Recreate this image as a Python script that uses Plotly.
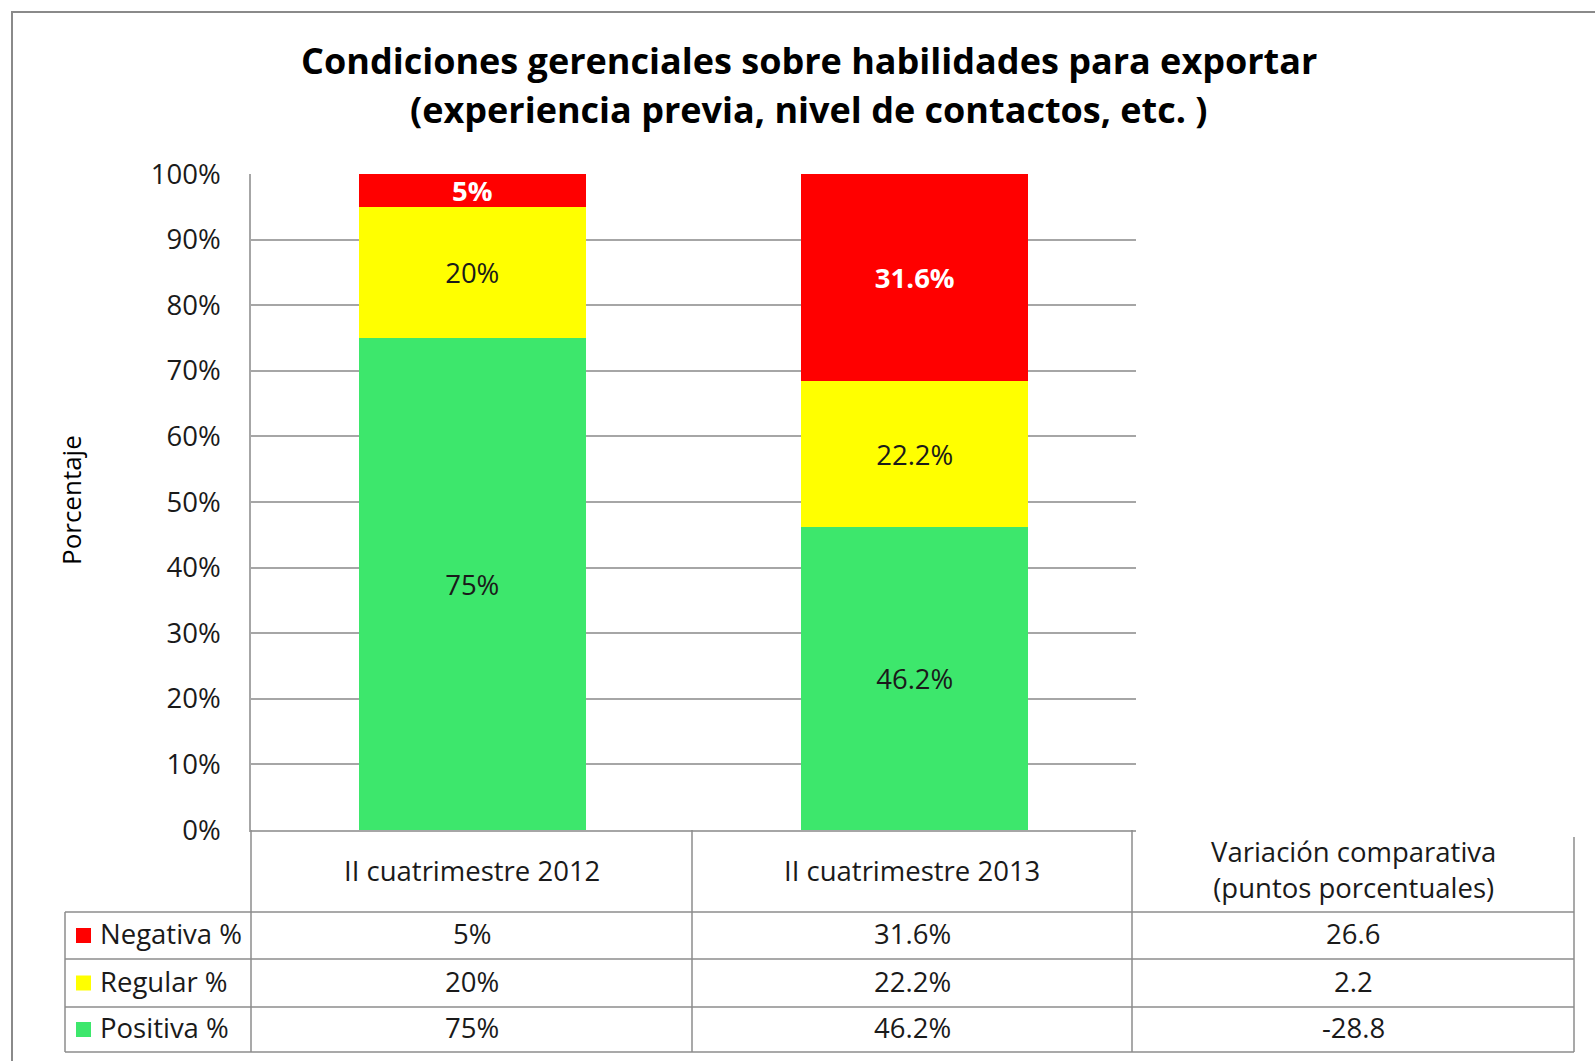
import plotly.graph_objects as go

# Categories and series (percent of firms)
categories = ["II cuatrimestre 2012", "II cuatrimestre 2013"]
variation_header = "Variación comparativa<br>(puntos porcentuales)"
series_names = ["Negativa %", "Regular %", "Positiva %"]
negativa = [5, 31.6]
regular = [20, 22.2]
positiva = [75, 46.2]
variacion = [26.6, 2.2, -28.8]
colors = {"Negativa %": "#FF0000", "Regular %": "#FFFF00", "Positiva %": "#3DE76C"}

title_lines = ["Condiciones gerenciales sobre habilidades para exportar",
               "(experiencia previa, nivel de contactos, etc. )"]

FONT = "Open Sans, Lato, sans-serif"
W, H = 1595, 1061
L, R, T, B = 251, 459, 174, 231
PW, PH = W - L - R, H - T - B
GRID = "#A6A6A6"
TXT = "#1a1a1a"
FS = 27.5


def px(x):
    return (x - L) / PW


def py(y):
    return (H - B - y) / PH


fig = go.Figure()

stack = [("Positiva %", positiva, TXT, False),
         ("Regular %", regular, TXT, False),
         ("Negativa %", negativa, "white", True)]
for name, vals, tcol, bold in stack:
    labels = [f"{v:g}%" for v in vals]
    fig.add_trace(go.Bar(
        x=categories, y=vals, name=name, text=labels,
        marker=dict(color=colors[name], line=dict(width=0)),
        texttemplate="<b>%{text}</b>" if bold else "%{text}",
        textposition="inside", insidetextanchor="middle",
        textangle=0, constraintext="none",
        textfont=dict(family=FONT, size=FS, color=tcol),
        hoverinfo="skip",
    ))

shapes = []
annotations = []

# Outer chart frame
shapes.append(dict(type="rect", xref="paper", yref="paper",
                   x0=px(12), x1=px(1620), y0=py(12), y1=py(1080),
                   line=dict(color="#8A8A8A", width=2), fillcolor="rgba(0,0,0,0)"))

# Title
for i, line in enumerate(title_lines):
    annotations.append(dict(text="<b>" + line + "</b>", xref="paper", yref="paper",
                            x=px(809), y=py(61 + 49 * i), showarrow=False,
                            xanchor="center", yanchor="middle",
                            font=dict(family=FONT, size=36, color="black")))

# Axis title
annotations.append(dict(text="Porcentaje", xref="paper", yref="paper",
                        x=px(71), y=py(500), textangle=-90, showarrow=False,
                        xanchor="center", yanchor="middle",
                        font=dict(family=FONT, size=26, color="black")))

# Data table below the chart
tcol = dict(color="#8C8C8C", width=1.5)
col_x = [65, 251, 692, 1132, 1574]
row_y = [830, 912, 959, 1007, 1052]


def hline(x0, x1, y):
    shapes.append(dict(type="line", xref="paper", yref="paper",
                       x0=px(x0), x1=px(x1), y0=py(y), y1=py(y), line=tcol))


def vline(x, y0, y1):
    shapes.append(dict(type="line", xref="paper", yref="paper",
                       x0=px(x), x1=px(x), y0=py(y0), y1=py(y1), line=tcol))


for y in row_y[1:]:
    hline(col_x[0], col_x[4], y)
vline(col_x[0], row_y[1], row_y[4])
vline(col_x[1], row_y[0], row_y[4])
vline(col_x[2], row_y[0], row_y[4])
vline(col_x[3], row_y[0], row_y[4])
vline(col_x[4], 837, row_y[4])

headers = categories + [variation_header]
for j, h in enumerate(headers):
    cx = (col_x[j + 1] + col_x[j + 2]) / 2
    cy = (row_y[0] + row_y[1]) / 2 - (1 if j < 2 else 2)
    annotations.append(dict(text=h, xref="paper", yref="paper",
                            x=px(cx), y=py(cy),
                            showarrow=False, xanchor="center", yanchor="middle",
                            font=dict(family=FONT, size=FS, color=TXT)))

table_rows = {"Negativa %": negativa, "Regular %": regular, "Positiva %": positiva}
for i, name in enumerate(series_names):
    cy = (row_y[i + 1] + row_y[i + 2]) / 2
    ty = cy - 2
    shapes.append(dict(type="rect", xref="paper", yref="paper",
                       x0=px(76), x1=px(91), y0=py(cy - 7.5), y1=py(cy + 7.5),
                       fillcolor=colors[name], line=dict(width=0)))
    annotations.append(dict(text=name, xref="paper", yref="paper",
                            x=px(98), y=py(ty), showarrow=False,
                            xanchor="left", yanchor="middle",
                            font=dict(family=FONT, size=FS, color=TXT)))
    vals = [f"{v:g}%" for v in table_rows[name]] + [f"{variacion[i]:g}"]
    for j, v in enumerate(vals):
        cx = (col_x[j + 1] + col_x[j + 2]) / 2
        annotations.append(dict(text=v, xref="paper", yref="paper",
                                x=px(cx), y=py(ty), showarrow=False,
                                xanchor="center", yanchor="middle",
                                font=dict(family=FONT, size=FS, color=TXT)))

fig.update_layout(
    width=W, height=H,
    margin=dict(l=L, r=R, t=T, b=B, pad=0),
    paper_bgcolor="white", plot_bgcolor="white",
    barmode="stack", bargap=0.487,
    showlegend=False,
    shapes=shapes, annotations=annotations,
    xaxis=dict(showticklabels=False, showgrid=False, zeroline=False,
               showline=True, linecolor=GRID, linewidth=1.5, ticks="",
               range=[-0.5, 1.5], fixedrange=True),
    yaxis=dict(range=[0, 100], dtick=10, ticksuffix="%", showgrid=True,
               gridcolor=GRID, gridwidth=1.5, zeroline=False,
               showline=True, linecolor=GRID, linewidth=1.5, ticks="",
               ticklabelstandoff=23,
               tickfont=dict(family=FONT, size=FS, color=TXT)),
)

fig.write_html("out.html")
